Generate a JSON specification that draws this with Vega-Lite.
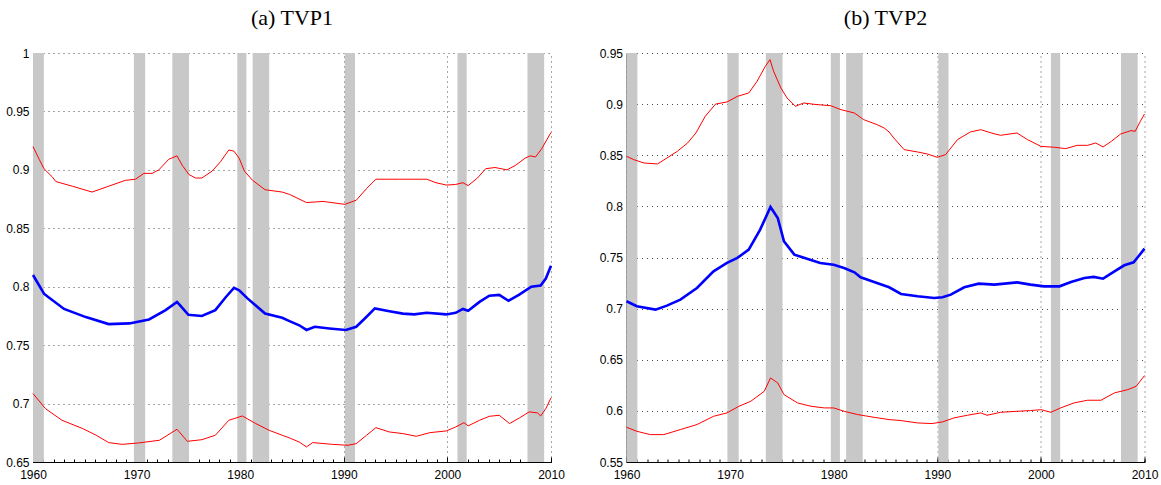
{
  "$schema": "https://vega.github.io/schema/vega-lite/v6.json",
  "padding": {"left": 5, "top": 7, "right": 10, "bottom": 1},
  "background": "white",
  "bounds": "flush",
  "spacing": 75.5,
  "config": {
    "view": {"stroke": null},
    "axis": {
      "title": null,
      "domainColor": "#000000",
      "domainWidth": 1,
      "tickColor": "#000000",
      "tickWidth": 1,
      "labelColor": "#000000",
      "labelFont": "Liberation Sans",
      "labelFontSize": 12,
      "labelFlush": false,
      "labelOverlap": false,
      "zindex": 1
    },
    "title": {"font": "Liberation Serif", "fontSize": 22, "fontWeight": "normal", "color": "#000000", "anchor": "middle", "offset": 17, "baseline": "alphabetic"}
  },
  "datasets": {
    "rec": [
      {"start": 1960.0, "end": 1961.05},
      {"start": 1969.74, "end": 1970.83},
      {"start": 1973.45, "end": 1975.06},
      {"start": 1979.72, "end": 1980.6},
      {"start": 1981.2, "end": 1982.8},
      {"start": 1990.1, "end": 1991.08},
      {"start": 2000.97, "end": 2001.86},
      {"start": 2007.73, "end": 2009.34}
    ],
    "tvp": [
      {"panel": "a", "band": "upper", "year": 1960.0, "value": 0.920},
      {"panel": "a", "band": "upper", "year": 1960.6, "value": 0.909},
      {"panel": "a", "band": "upper", "year": 1961.06, "value": 0.901},
      {"panel": "a", "band": "upper", "year": 1961.86, "value": 0.894},
      {"panel": "a", "band": "upper", "year": 1962.2, "value": 0.890},
      {"panel": "a", "band": "upper", "year": 1963.8, "value": 0.886},
      {"panel": "a", "band": "upper", "year": 1965.7, "value": 0.881},
      {"panel": "a", "band": "upper", "year": 1967.3, "value": 0.886},
      {"panel": "a", "band": "upper", "year": 1968.9, "value": 0.891},
      {"panel": "a", "band": "upper", "year": 1969.9, "value": 0.892},
      {"panel": "a", "band": "upper", "year": 1970.7, "value": 0.897},
      {"panel": "a", "band": "upper", "year": 1971.5, "value": 0.897},
      {"panel": "a", "band": "upper", "year": 1972.15, "value": 0.900},
      {"panel": "a", "band": "upper", "year": 1973.1, "value": 0.909},
      {"panel": "a", "band": "upper", "year": 1973.9, "value": 0.912},
      {"panel": "a", "band": "upper", "year": 1974.4, "value": 0.904},
      {"panel": "a", "band": "upper", "year": 1975.05, "value": 0.896},
      {"panel": "a", "band": "upper", "year": 1975.7, "value": 0.893},
      {"panel": "a", "band": "upper", "year": 1976.3, "value": 0.893},
      {"panel": "a", "band": "upper", "year": 1977.3, "value": 0.899},
      {"panel": "a", "band": "upper", "year": 1978.1, "value": 0.907},
      {"panel": "a", "band": "upper", "year": 1978.9, "value": 0.917},
      {"panel": "a", "band": "upper", "year": 1979.4, "value": 0.916},
      {"panel": "a", "band": "upper", "year": 1979.9, "value": 0.910},
      {"panel": "a", "band": "upper", "year": 1980.4, "value": 0.899},
      {"panel": "a", "band": "upper", "year": 1981.2, "value": 0.891},
      {"panel": "a", "band": "upper", "year": 1982.4, "value": 0.883},
      {"panel": "a", "band": "upper", "year": 1984.05, "value": 0.881},
      {"panel": "a", "band": "upper", "year": 1984.76, "value": 0.879},
      {"panel": "a", "band": "upper", "year": 1986.4, "value": 0.872},
      {"panel": "a", "band": "upper", "year": 1988.0, "value": 0.873},
      {"panel": "a", "band": "upper", "year": 1990.1, "value": 0.8705},
      {"panel": "a", "band": "upper", "year": 1991.2, "value": 0.874},
      {"panel": "a", "band": "upper", "year": 1992.2, "value": 0.884},
      {"panel": "a", "band": "upper", "year": 1993.1, "value": 0.892},
      {"panel": "a", "band": "upper", "year": 1995.4, "value": 0.892},
      {"panel": "a", "band": "upper", "year": 1998.0, "value": 0.892},
      {"panel": "a", "band": "upper", "year": 1998.9, "value": 0.889},
      {"panel": "a", "band": "upper", "year": 1999.9, "value": 0.887},
      {"panel": "a", "band": "upper", "year": 2000.8, "value": 0.8875},
      {"panel": "a", "band": "upper", "year": 2001.5, "value": 0.889},
      {"panel": "a", "band": "upper", "year": 2002.0, "value": 0.8865},
      {"panel": "a", "band": "upper", "year": 2002.9, "value": 0.893},
      {"panel": "a", "band": "upper", "year": 2003.7, "value": 0.901},
      {"panel": "a", "band": "upper", "year": 2004.6, "value": 0.902},
      {"panel": "a", "band": "upper", "year": 2005.75, "value": 0.900},
      {"panel": "a", "band": "upper", "year": 2006.6, "value": 0.904},
      {"panel": "a", "band": "upper", "year": 2007.5, "value": 0.910},
      {"panel": "a", "band": "upper", "year": 2008.0, "value": 0.912},
      {"panel": "a", "band": "upper", "year": 2008.5, "value": 0.911},
      {"panel": "a", "band": "upper", "year": 2009.1, "value": 0.918},
      {"panel": "a", "band": "upper", "year": 2009.8, "value": 0.929},
      {"panel": "a", "band": "upper", "year": 2010.0, "value": 0.932},

      {"panel": "a", "band": "median", "year": 1960.0, "value": 0.810},
      {"panel": "a", "band": "median", "year": 1961.06, "value": 0.794},
      {"panel": "a", "band": "median", "year": 1961.5, "value": 0.791},
      {"panel": "a", "band": "median", "year": 1963.0, "value": 0.781},
      {"panel": "a", "band": "median", "year": 1965.1, "value": 0.774},
      {"panel": "a", "band": "median", "year": 1967.3, "value": 0.768},
      {"panel": "a", "band": "median", "year": 1969.3, "value": 0.7686},
      {"panel": "a", "band": "median", "year": 1971.2, "value": 0.772},
      {"panel": "a", "band": "median", "year": 1972.8, "value": 0.780},
      {"panel": "a", "band": "median", "year": 1973.9, "value": 0.787},
      {"panel": "a", "band": "median", "year": 1974.2, "value": 0.784},
      {"panel": "a", "band": "median", "year": 1975.0, "value": 0.776},
      {"panel": "a", "band": "median", "year": 1976.3, "value": 0.775},
      {"panel": "a", "band": "median", "year": 1977.6, "value": 0.780},
      {"panel": "a", "band": "median", "year": 1978.6, "value": 0.791},
      {"panel": "a", "band": "median", "year": 1979.4, "value": 0.799},
      {"panel": "a", "band": "median", "year": 1979.9, "value": 0.797},
      {"panel": "a", "band": "median", "year": 1980.7, "value": 0.790},
      {"panel": "a", "band": "median", "year": 1982.4, "value": 0.777},
      {"panel": "a", "band": "median", "year": 1984.05, "value": 0.7734},
      {"panel": "a", "band": "median", "year": 1984.76, "value": 0.7706},
      {"panel": "a", "band": "median", "year": 1985.7, "value": 0.767},
      {"panel": "a", "band": "median", "year": 1986.4, "value": 0.763},
      {"panel": "a", "band": "median", "year": 1987.2, "value": 0.7657},
      {"panel": "a", "band": "median", "year": 1988.6, "value": 0.7643},
      {"panel": "a", "band": "median", "year": 1990.2, "value": 0.763},
      {"panel": "a", "band": "median", "year": 1991.2, "value": 0.7657},
      {"panel": "a", "band": "median", "year": 1992.2, "value": 0.7743},
      {"panel": "a", "band": "median", "year": 1993.0, "value": 0.7814},
      {"panel": "a", "band": "median", "year": 1994.4, "value": 0.779},
      {"panel": "a", "band": "median", "year": 1995.7, "value": 0.777},
      {"panel": "a", "band": "median", "year": 1996.8, "value": 0.7763},
      {"panel": "a", "band": "median", "year": 1998.0, "value": 0.7777},
      {"panel": "a", "band": "median", "year": 1999.9, "value": 0.7763},
      {"panel": "a", "band": "median", "year": 2000.8, "value": 0.7777},
      {"panel": "a", "band": "median", "year": 2001.5, "value": 0.781},
      {"panel": "a", "band": "median", "year": 2002.0, "value": 0.7794},
      {"panel": "a", "band": "median", "year": 2003.1, "value": 0.787},
      {"panel": "a", "band": "median", "year": 2004.05, "value": 0.7923},
      {"panel": "a", "band": "median", "year": 2005.0, "value": 0.793},
      {"panel": "a", "band": "median", "year": 2005.9, "value": 0.788},
      {"panel": "a", "band": "median", "year": 2006.9, "value": 0.793},
      {"panel": "a", "band": "median", "year": 2008.1, "value": 0.800},
      {"panel": "a", "band": "median", "year": 2009.0, "value": 0.801},
      {"panel": "a", "band": "median", "year": 2009.5, "value": 0.807},
      {"panel": "a", "band": "median", "year": 2010.0, "value": 0.818},

      {"panel": "a", "band": "lower", "year": 1960.0, "value": 0.7086},
      {"panel": "a", "band": "lower", "year": 1961.2, "value": 0.6957},
      {"panel": "a", "band": "lower", "year": 1962.8, "value": 0.6857},
      {"panel": "a", "band": "lower", "year": 1964.8, "value": 0.6786},
      {"panel": "a", "band": "lower", "year": 1966.1, "value": 0.6729},
      {"panel": "a", "band": "lower", "year": 1967.3, "value": 0.6666},
      {"panel": "a", "band": "lower", "year": 1968.6, "value": 0.6651},
      {"panel": "a", "band": "lower", "year": 1970.2, "value": 0.6663},
      {"panel": "a", "band": "lower", "year": 1972.2, "value": 0.6686},
      {"panel": "a", "band": "lower", "year": 1973.9, "value": 0.678},
      {"panel": "a", "band": "lower", "year": 1974.9, "value": 0.6677},
      {"panel": "a", "band": "lower", "year": 1976.3, "value": 0.6691},
      {"panel": "a", "band": "lower", "year": 1977.6, "value": 0.6729},
      {"panel": "a", "band": "lower", "year": 1978.9, "value": 0.6857},
      {"panel": "a", "band": "lower", "year": 1980.2, "value": 0.6894},
      {"panel": "a", "band": "lower", "year": 1981.5, "value": 0.6829},
      {"panel": "a", "band": "lower", "year": 1982.8, "value": 0.6771},
      {"panel": "a", "band": "lower", "year": 1984.05, "value": 0.6729},
      {"panel": "a", "band": "lower", "year": 1984.76, "value": 0.6706},
      {"panel": "a", "band": "lower", "year": 1985.7, "value": 0.6671},
      {"panel": "a", "band": "lower", "year": 1986.4, "value": 0.6629},
      {"panel": "a", "band": "lower", "year": 1987.0, "value": 0.6666},
      {"panel": "a", "band": "lower", "year": 1988.9, "value": 0.6651},
      {"panel": "a", "band": "lower", "year": 1990.4, "value": 0.6643},
      {"panel": "a", "band": "lower", "year": 1991.2, "value": 0.6657},
      {"panel": "a", "band": "lower", "year": 1992.2, "value": 0.6729},
      {"panel": "a", "band": "lower", "year": 1993.1, "value": 0.6794},
      {"panel": "a", "band": "lower", "year": 1994.4, "value": 0.6757},
      {"panel": "a", "band": "lower", "year": 1995.7, "value": 0.6743},
      {"panel": "a", "band": "lower", "year": 1997.0, "value": 0.672},
      {"panel": "a", "band": "lower", "year": 1998.3, "value": 0.6751},
      {"panel": "a", "band": "lower", "year": 1999.9, "value": 0.6766},
      {"panel": "a", "band": "lower", "year": 2000.8, "value": 0.680},
      {"panel": "a", "band": "lower", "year": 2001.6, "value": 0.6837},
      {"panel": "a", "band": "lower", "year": 2002.0, "value": 0.6809},
      {"panel": "a", "band": "lower", "year": 2003.1, "value": 0.6857},
      {"panel": "a", "band": "lower", "year": 2004.05, "value": 0.6891},
      {"panel": "a", "band": "lower", "year": 2005.0, "value": 0.690},
      {"panel": "a", "band": "lower", "year": 2006.0, "value": 0.6829},
      {"panel": "a", "band": "lower", "year": 2006.95, "value": 0.6877},
      {"panel": "a", "band": "lower", "year": 2007.9, "value": 0.6929},
      {"panel": "a", "band": "lower", "year": 2008.7, "value": 0.692},
      {"panel": "a", "band": "lower", "year": 2009.0, "value": 0.6894},
      {"panel": "a", "band": "lower", "year": 2009.5, "value": 0.6957},
      {"panel": "a", "band": "lower", "year": 2010.0, "value": 0.7049},

      {"panel": "b", "band": "upper", "year": 1960.0, "value": 0.849},
      {"panel": "b", "band": "upper", "year": 1960.7, "value": 0.8457},
      {"panel": "b", "band": "upper", "year": 1961.7, "value": 0.8424},
      {"panel": "b", "band": "upper", "year": 1963.0, "value": 0.8415},
      {"panel": "b", "band": "upper", "year": 1963.9, "value": 0.8473},
      {"panel": "b", "band": "upper", "year": 1964.9, "value": 0.8538},
      {"panel": "b", "band": "upper", "year": 1965.9, "value": 0.862},
      {"panel": "b", "band": "upper", "year": 1966.7, "value": 0.8718},
      {"panel": "b", "band": "upper", "year": 1967.6, "value": 0.8881},
      {"panel": "b", "band": "upper", "year": 1968.6, "value": 0.9001},
      {"panel": "b", "band": "upper", "year": 1969.7, "value": 0.9021},
      {"panel": "b", "band": "upper", "year": 1970.7, "value": 0.9076},
      {"panel": "b", "band": "upper", "year": 1971.8, "value": 0.9109},
      {"panel": "b", "band": "upper", "year": 1972.6, "value": 0.9223},
      {"panel": "b", "band": "upper", "year": 1973.4, "value": 0.937},
      {"panel": "b", "band": "upper", "year": 1973.85, "value": 0.9435},
      {"panel": "b", "band": "upper", "year": 1974.2, "value": 0.9321},
      {"panel": "b", "band": "upper", "year": 1974.9, "value": 0.9158},
      {"panel": "b", "band": "upper", "year": 1975.5, "value": 0.906},
      {"panel": "b", "band": "upper", "year": 1976.3, "value": 0.8979},
      {"panel": "b", "band": "upper", "year": 1977.1, "value": 0.9011},
      {"panel": "b", "band": "upper", "year": 1978.4, "value": 0.8995},
      {"panel": "b", "band": "upper", "year": 1979.7, "value": 0.8985},
      {"panel": "b", "band": "upper", "year": 1980.7, "value": 0.8946},
      {"panel": "b", "band": "upper", "year": 1982.0, "value": 0.8913},
      {"panel": "b", "band": "upper", "year": 1982.9, "value": 0.8848},
      {"panel": "b", "band": "upper", "year": 1984.2, "value": 0.8799},
      {"panel": "b", "band": "upper", "year": 1984.86, "value": 0.8767},
      {"panel": "b", "band": "upper", "year": 1985.35, "value": 0.8727},
      {"panel": "b", "band": "upper", "year": 1985.8, "value": 0.8669},
      {"panel": "b", "band": "upper", "year": 1986.8, "value": 0.8555},
      {"panel": "b", "band": "upper", "year": 1988.1, "value": 0.8532},
      {"panel": "b", "band": "upper", "year": 1989.05, "value": 0.8512},
      {"panel": "b", "band": "upper", "year": 1990.0, "value": 0.848},
      {"panel": "b", "band": "upper", "year": 1990.8, "value": 0.8506},
      {"panel": "b", "band": "upper", "year": 1991.95, "value": 0.8653},
      {"panel": "b", "band": "upper", "year": 1993.2, "value": 0.8728},
      {"panel": "b", "band": "upper", "year": 1994.2, "value": 0.875},
      {"panel": "b", "band": "upper", "year": 1995.2, "value": 0.8718},
      {"panel": "b", "band": "upper", "year": 1996.1, "value": 0.8695},
      {"panel": "b", "band": "upper", "year": 1997.7, "value": 0.8718},
      {"panel": "b", "band": "upper", "year": 1998.7, "value": 0.8653},
      {"panel": "b", "band": "upper", "year": 2000.0, "value": 0.8587},
      {"panel": "b", "band": "upper", "year": 2001.3, "value": 0.8578},
      {"panel": "b", "band": "upper", "year": 2002.4, "value": 0.8565},
      {"panel": "b", "band": "upper", "year": 2003.5, "value": 0.8597},
      {"panel": "b", "band": "upper", "year": 2004.5, "value": 0.8597},
      {"panel": "b", "band": "upper", "year": 2005.3, "value": 0.862},
      {"panel": "b", "band": "upper", "year": 2006.0, "value": 0.8581},
      {"panel": "b", "band": "upper", "year": 2006.8, "value": 0.8636},
      {"panel": "b", "band": "upper", "year": 2007.7, "value": 0.8708},
      {"panel": "b", "band": "upper", "year": 2008.7, "value": 0.8741},
      {"panel": "b", "band": "upper", "year": 2009.1, "value": 0.8734},
      {"panel": "b", "band": "upper", "year": 2009.6, "value": 0.8832},
      {"panel": "b", "band": "upper", "year": 2010.0, "value": 0.8904},

      {"panel": "b", "band": "median", "year": 1960.0, "value": 0.7072},
      {"panel": "b", "band": "median", "year": 1961.0, "value": 0.7023},
      {"panel": "b", "band": "median", "year": 1962.8, "value": 0.699},
      {"panel": "b", "band": "median", "year": 1963.9, "value": 0.7029},
      {"panel": "b", "band": "median", "year": 1965.2, "value": 0.7088},
      {"panel": "b", "band": "median", "year": 1966.8, "value": 0.7202},
      {"panel": "b", "band": "median", "year": 1968.4, "value": 0.7365},
      {"panel": "b", "band": "median", "year": 1969.7, "value": 0.7447},
      {"panel": "b", "band": "median", "year": 1970.7, "value": 0.7496},
      {"panel": "b", "band": "median", "year": 1971.8, "value": 0.7577},
      {"panel": "b", "band": "median", "year": 1972.9, "value": 0.7773},
      {"panel": "b", "band": "median", "year": 1973.9, "value": 0.7994},
      {"panel": "b", "band": "median", "year": 1974.6, "value": 0.7887},
      {"panel": "b", "band": "median", "year": 1975.2, "value": 0.7658},
      {"panel": "b", "band": "median", "year": 1976.2, "value": 0.7528},
      {"panel": "b", "band": "median", "year": 1977.5, "value": 0.7486},
      {"panel": "b", "band": "median", "year": 1978.7, "value": 0.7447},
      {"panel": "b", "band": "median", "year": 1980.0, "value": 0.743},
      {"panel": "b", "band": "median", "year": 1981.0, "value": 0.7398},
      {"panel": "b", "band": "median", "year": 1982.0, "value": 0.7355},
      {"panel": "b", "band": "median", "year": 1982.6, "value": 0.7306},
      {"panel": "b", "band": "median", "year": 1983.9, "value": 0.7261},
      {"panel": "b", "band": "median", "year": 1985.35, "value": 0.7209},
      {"panel": "b", "band": "median", "year": 1986.5, "value": 0.7143},
      {"panel": "b", "band": "median", "year": 1988.1, "value": 0.7121},
      {"panel": "b", "band": "median", "year": 1989.7, "value": 0.7104},
      {"panel": "b", "band": "median", "year": 1990.5, "value": 0.7111},
      {"panel": "b", "band": "median", "year": 1991.3, "value": 0.7137},
      {"panel": "b", "band": "median", "year": 1992.6, "value": 0.7209},
      {"panel": "b", "band": "median", "year": 1994.0, "value": 0.7244},
      {"panel": "b", "band": "median", "year": 1995.5, "value": 0.7235},
      {"panel": "b", "band": "median", "year": 1997.7, "value": 0.7257},
      {"panel": "b", "band": "median", "year": 1999.0, "value": 0.7235},
      {"panel": "b", "band": "median", "year": 2000.3, "value": 0.7218},
      {"panel": "b", "band": "median", "year": 2001.8, "value": 0.7218},
      {"panel": "b", "band": "median", "year": 2002.9, "value": 0.7261},
      {"panel": "b", "band": "median", "year": 2004.2, "value": 0.73},
      {"panel": "b", "band": "median", "year": 2005.1, "value": 0.731},
      {"panel": "b", "band": "median", "year": 2006.0, "value": 0.7293},
      {"panel": "b", "band": "median", "year": 2007.1, "value": 0.7365},
      {"panel": "b", "band": "median", "year": 2008.05, "value": 0.7424},
      {"panel": "b", "band": "median", "year": 2008.95, "value": 0.7453},
      {"panel": "b", "band": "median", "year": 2009.5, "value": 0.7522},
      {"panel": "b", "band": "median", "year": 2010.0, "value": 0.7587},

      {"panel": "b", "band": "lower", "year": 1960.0, "value": 0.584},
      {"panel": "b", "band": "lower", "year": 1961.0, "value": 0.580},
      {"panel": "b", "band": "lower", "year": 1962.3, "value": 0.5768},
      {"panel": "b", "band": "lower", "year": 1963.6, "value": 0.5768},
      {"panel": "b", "band": "lower", "year": 1965.2, "value": 0.5817},
      {"panel": "b", "band": "lower", "year": 1966.8, "value": 0.5866},
      {"panel": "b", "band": "lower", "year": 1968.4, "value": 0.5947},
      {"panel": "b", "band": "lower", "year": 1969.7, "value": 0.598},
      {"panel": "b", "band": "lower", "year": 1970.85, "value": 0.6045},
      {"panel": "b", "band": "lower", "year": 1972.0, "value": 0.6094},
      {"panel": "b", "band": "lower", "year": 1973.3, "value": 0.6192},
      {"panel": "b", "band": "lower", "year": 1973.9, "value": 0.6322},
      {"panel": "b", "band": "lower", "year": 1974.6, "value": 0.6273},
      {"panel": "b", "band": "lower", "year": 1975.2, "value": 0.6159},
      {"panel": "b", "band": "lower", "year": 1976.5, "value": 0.6078},
      {"panel": "b", "band": "lower", "year": 1977.8, "value": 0.6045},
      {"panel": "b", "band": "lower", "year": 1979.1, "value": 0.6029},
      {"panel": "b", "band": "lower", "year": 1980.0, "value": 0.6029},
      {"panel": "b", "band": "lower", "year": 1981.0, "value": 0.5996},
      {"panel": "b", "band": "lower", "year": 1982.3, "value": 0.5964},
      {"panel": "b", "band": "lower", "year": 1983.9, "value": 0.5937},
      {"panel": "b", "band": "lower", "year": 1985.35, "value": 0.5915},
      {"panel": "b", "band": "lower", "year": 1986.5, "value": 0.5905},
      {"panel": "b", "band": "lower", "year": 1988.1, "value": 0.5882},
      {"panel": "b", "band": "lower", "year": 1989.5, "value": 0.5876},
      {"panel": "b", "band": "lower", "year": 1990.5, "value": 0.5892},
      {"panel": "b", "band": "lower", "year": 1991.6, "value": 0.5931},
      {"panel": "b", "band": "lower", "year": 1992.9, "value": 0.5957},
      {"panel": "b", "band": "lower", "year": 1994.2, "value": 0.598},
      {"panel": "b", "band": "lower", "year": 1994.8, "value": 0.5957},
      {"panel": "b", "band": "lower", "year": 1996.1, "value": 0.5986},
      {"panel": "b", "band": "lower", "year": 1997.7, "value": 0.5996},
      {"panel": "b", "band": "lower", "year": 1999.0, "value": 0.6003},
      {"panel": "b", "band": "lower", "year": 2000.0, "value": 0.6012},
      {"panel": "b", "band": "lower", "year": 2000.96, "value": 0.5986},
      {"panel": "b", "band": "lower", "year": 2001.9, "value": 0.6029},
      {"panel": "b", "band": "lower", "year": 2003.2, "value": 0.6078},
      {"panel": "b", "band": "lower", "year": 2004.5, "value": 0.6104},
      {"panel": "b", "band": "lower", "year": 2005.8, "value": 0.6104},
      {"panel": "b", "band": "lower", "year": 2007.1, "value": 0.6176},
      {"panel": "b", "band": "lower", "year": 2008.4, "value": 0.6208},
      {"panel": "b", "band": "lower", "year": 2009.2, "value": 0.6241},
      {"panel": "b", "band": "lower", "year": 2010.0, "value": 0.6345}
    ]
  },
  "hconcat": [
    {
      "width": 518,
      "height": 409,
      "title": {"text": "(a) TVP1"},
      "layer": [
        {
          "data": {"name": "rec"},
          "mark": {"type": "rect", "color": "#c8c8c8"},
          "encoding": {
            "x": {
              "field": "start",
              "type": "quantitative",
              "scale": {"domain": [1960, 2010], "nice": false},
              "axis": {
                "orient": "bottom",
                "values": [1960, 1970, 1980, 1990, 2000, 2010],
                "format": "d",
                "grid": true,
                "gridDash": [1, 4],
                "gridColor": "#000000",
                "gridOpacity": 0.7,
                "tickSize": -5,
                "labelPadding": 12
              }
            },
            "x2": {"field": "end"}
          }
        },
        {
          "data": {"name": "tvp"},
          "transform": [{"filter": "datum.panel === 'a' && datum.band !== 'median'"}],
          "mark": {"type": "line", "color": "#ff0000", "strokeWidth": 1},
          "encoding": {
            "x": {
              "field": "year",
              "type": "quantitative",
              "axis": {
                "orient": "bottom",
                "values": [1960, 1961, 1962, 1963, 1964, 1965, 1966, 1967, 1968, 1969, 1970, 1971, 1972, 1973, 1974, 1975, 1976, 1977, 1978, 1979, 1980, 1981, 1982, 1983, 1984, 1985, 1986, 1987, 1988, 1989, 1990, 1991, 1992, 1993, 1994, 1995, 1996, 1997, 1998, 1999, 2000, 2001, 2002, 2003, 2004, 2005, 2006, 2007, 2008, 2009, 2010],
                "labels": false,
                "domain": false,
                "grid": false,
                "tickSize": -3
              }
            },
            "y": {
              "field": "value",
              "type": "quantitative",
              "scale": {"domain": [0.65, 1], "nice": false, "zero": false},
              "axis": {
                "orient": "left",
                "values": [0.65, 0.7, 0.75, 0.8, 0.85, 0.9, 0.95, 1],
                "format": "~g",
                "grid": true,
                "gridDash": [1, 4],
                "gridColor": "#000000",
                "gridOpacity": 0.7,
                "tickSize": -5,
                "labelPadding": 9
              }
            },
            "detail": {"field": "band"}
          }
        },
        {
          "data": {"name": "tvp"},
          "transform": [{"filter": "datum.panel === 'a' && datum.band === 'median'"}],
          "mark": {"type": "line", "color": "#0000ff", "strokeWidth": 2.6},
          "encoding": {
            "x": {"field": "year", "type": "quantitative", "axis": null},
            "y": {
              "field": "value",
              "type": "quantitative",
              "axis": {
                "orient": "left",
                "values": [0.65, 0.66, 0.67, 0.68, 0.69, 0.7, 0.71, 0.72, 0.73, 0.74, 0.75, 0.76, 0.77, 0.78, 0.79, 0.8, 0.81, 0.82, 0.83, 0.84, 0.85, 0.86, 0.87, 0.88, 0.89, 0.9, 0.91, 0.92, 0.93, 0.94, 0.95, 0.96, 0.97, 0.98, 0.99, 1],
                "labels": false,
                "domain": false,
                "grid": false,
                "tickSize": -3
              }
            }
          }
        }
      ],
      "resolve": {"axis": {"x": "independent", "y": "independent"}}
    },
    {
      "width": 518,
      "height": 409,
      "title": {"text": "(b) TVP2"},
      "layer": [
        {
          "data": {"name": "rec"},
          "mark": {"type": "rect", "color": "#c8c8c8"},
          "encoding": {
            "x": {
              "field": "start",
              "type": "quantitative",
              "scale": {"domain": [1960, 2010], "nice": false},
              "axis": {
                "orient": "bottom",
                "values": [1960, 1970, 1980, 1990, 2000, 2010],
                "format": "d",
                "grid": true,
                "gridDash": [1, 4],
                "gridColor": "#000000",
                "gridOpacity": 0.7,
                "tickSize": -5,
                "labelPadding": 12
              }
            },
            "x2": {"field": "end"}
          }
        },
        {
          "data": {"name": "tvp"},
          "transform": [{"filter": "datum.panel === 'b' && datum.band !== 'median'"}],
          "mark": {"type": "line", "color": "#ff0000", "strokeWidth": 1},
          "encoding": {
            "x": {
              "field": "year",
              "type": "quantitative",
              "axis": {
                "orient": "bottom",
                "values": [1960, 1961, 1962, 1963, 1964, 1965, 1966, 1967, 1968, 1969, 1970, 1971, 1972, 1973, 1974, 1975, 1976, 1977, 1978, 1979, 1980, 1981, 1982, 1983, 1984, 1985, 1986, 1987, 1988, 1989, 1990, 1991, 1992, 1993, 1994, 1995, 1996, 1997, 1998, 1999, 2000, 2001, 2002, 2003, 2004, 2005, 2006, 2007, 2008, 2009, 2010],
                "labels": false,
                "domain": false,
                "grid": false,
                "tickSize": -3
              }
            },
            "y": {
              "field": "value",
              "type": "quantitative",
              "scale": {"domain": [0.55, 0.95], "nice": false, "zero": false},
              "axis": {
                "orient": "left",
                "values": [0.55, 0.6, 0.65, 0.7, 0.75, 0.8, 0.85, 0.9, 0.95],
                "format": "~g",
                "grid": true,
                "gridDash": [1, 4],
                "gridColor": "#000000",
                "gridOpacity": 0.7,
                "tickSize": -5,
                "labelPadding": 9
              }
            },
            "detail": {"field": "band"}
          }
        },
        {
          "data": {"name": "tvp"},
          "transform": [{"filter": "datum.panel === 'b' && datum.band === 'median'"}],
          "mark": {"type": "line", "color": "#0000ff", "strokeWidth": 2.6},
          "encoding": {
            "x": {"field": "year", "type": "quantitative", "axis": null},
            "y": {
              "field": "value",
              "type": "quantitative",
              "axis": {
                "orient": "left",
                "values": [0.55, 0.56, 0.57, 0.58, 0.59, 0.6, 0.61, 0.62, 0.63, 0.64, 0.65, 0.66, 0.67, 0.68, 0.69, 0.7, 0.71, 0.72, 0.73, 0.74, 0.75, 0.76, 0.77, 0.78, 0.79, 0.8, 0.81, 0.82, 0.83, 0.84, 0.85, 0.86, 0.87, 0.88, 0.89, 0.9, 0.91, 0.92, 0.93, 0.94, 0.95],
                "labels": false,
                "domain": false,
                "grid": false,
                "tickSize": -3
              }
            }
          }
        }
      ],
      "resolve": {"axis": {"x": "independent", "y": "independent"}}
    }
  ]
}
